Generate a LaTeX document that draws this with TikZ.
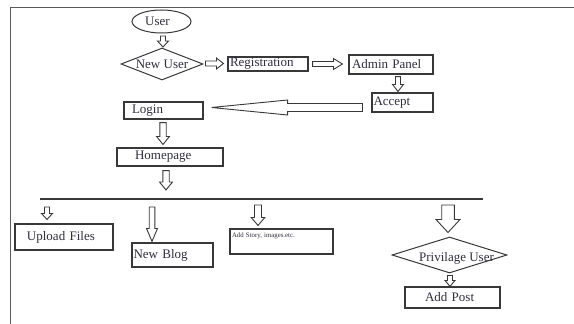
\documentclass[tikz,border=0pt]{standalone}
\usepackage{fontspec}
\setmainfont{Liberation Serif}
\usetikzlibrary{calc,shapes.geometric}
\definecolor{ink}{gray}{0.22}
\definecolor{txt}{rgb}{0.18,0.18,0.24}
\tikzset{
  lbl/.style={font=\fontsize{13}{15}\selectfont, text=txt},
  box/.style={draw=ink, line width=1.1pt, rectangle, inner ysep=0pt, align=left, lbl},
  dia/.style={draw=ink, line width=1pt, diamond, inner sep=0pt},
  blk/.style={draw=ink, line width=0.9pt, fill=white, line join=miter},
  frame/.style={draw=black!65, line width=1.4pt},
}
% down block arrow: from, to, shaft half, head half, head length
\newcommand\darrow[5]{\draw[blk] let \p1=#1, \p2=#2 in
  ({\x1-#3pt},\y1) -- ({\x1+#3pt},\y1) -- ({\x1+#3pt},{\y2+#5pt}) -- ({\x1+#4pt},{\y2+#5pt})
  -- (\x1,\y2) -- ({\x1-#4pt},{\y2+#5pt}) -- ({\x1-#3pt},{\y2+#5pt}) -- cycle;}
% horizontal block arrow: from, to, shaft half, head half, signed head length
\newcommand\harrow[5]{\draw[blk] let \p1=#1, \p2=#2 in
  (\x1,{\y1+#3pt}) -- ({\x2-(#5)*1pt},{\y1+#3pt}) -- ({\x2-(#5)*1pt},{\y1+#4pt})
  -- (\x2,\y1) -- ({\x2-(#5)*1pt},{\y1-#4pt}) -- ({\x2-(#5)*1pt},{\y1-#3pt}) -- (\x1,{\y1-#3pt}) -- cycle;}
\begin{document}
\begin{tikzpicture}[x=1pt,y=-1pt]
\useasboundingbox (0,0) rectangle (574,324);
\fill[white] (0,0) rectangle (574,324);
% frame
\coordinate (fTL) at (10.5,7.5);
\coordinate (fTR) at (574,7.5);
\coordinate (fBL) at (10.5,324);
\draw[frame] (fTR) -- (fTL) -- (fBL);

% nodes
\node[draw=ink, line width=1pt, ellipse, minimum width=59pt, minimum height=23pt, inner sep=0pt,
      label={[lbl, xshift=-4pt]center:User}] (user) at (161.5,21.5) {};
\node[dia, minimum width=82pt, minimum height=32pt, label={[lbl]center:New User}] (newuser) at (162,64) {};
\node[box, minimum width=80pt, minimum height=14pt, inner xsep=2pt, text width=76pt] (reg) at (268,64) {Registration};
\node[box, minimum width=84pt, minimum height=19pt, inner xsep=3pt, text width=78pt] (admin) at (391,64.5) {Admin Panel};
\node[box, minimum width=61pt, minimum height=19pt, inner xsep=1.5pt, text width=58pt] (accept) at (402.5,102.5) {Accept};
\node[box, minimum width=79pt, minimum height=17pt, inner xsep=8pt, text width=63pt] (login) at (163.5,110.5) {Login};
\node[box, minimum width=106pt, minimum height=18pt, inner xsep=18pt, text width=70pt] (home) at (170,157) {Homepage};

\coordinate (barL) at (40,199);
\coordinate (barR) at (483,199);
\draw[draw=ink, line width=1.1pt] (barL) -- (barR);

\node[box, minimum width=98pt, minimum height=26pt, inner xsep=12pt, text width=74pt] (upload) at (64,237) {Upload Files};
\node[box, minimum width=81pt, minimum height=24pt, inner xsep=1.5pt, text width=78pt] (newblog) at (172.5,255) {New Blog};
\node[box, minimum width=103pt, minimum height=25pt, inner xsep=2pt, text width=99pt,
      font=\fontsize{6.8}{8}\selectfont, text height=8pt, text depth=17pt] (story) at (281.5,241.5) {Add Story, images.etc.};
\node[dia, minimum width=115pt, minimum height=36pt,
      label={[lbl, xshift=7pt, yshift=-3pt]center:Privilage User}] (priv) at (449.5,255) {};
\node[box, minimum width=95pt, minimum height=21pt, inner xsep=20pt, text width=55pt] (addpost) at (452.5,297.5) {Add Post};

% connectors (block arrows)
\darrow{($(user.south)+(1.5,2.5)$)}{($(newuser.north)+(1,-0.5)$)}{2.5}{5.5}{6}
\harrow{($(newuser.east)+(2,-0.5)$)}{($(reg.west)+(-4,0)$)}{2.5}{5.5}{7}
\harrow{($(reg.east)+(4,0)$)}{($(admin.west)+(-6,0)$)}{2.5}{5.5}{9}
\darrow{($(admin.south)+(7,2)$)}{($(accept.north)+(-4.5,-1)$)}{2.5}{5.5}{7}
\harrow{($(accept.west)+(-9,5)$)}{($(login.east)+(8,-3)$)}{4}{7.5}{-76}
\darrow{($(login.south)+(-0.5,3)$)}{($(home.north)+(-7,-3)$)}{3.2}{6.5}{8}
\darrow{($(home.south)+(-4,4)$)}{($(barL)+(126,-9)$)}{3.2}{6.5}{8}
\darrow{($(barL)+(7,8)$)}{($(upload.north)+(-17,-4)$)}{2.5}{5.5}{6}
\darrow{($(barL)+(112,8)$)}{($(newblog.north)+(-20.5,-1)$)}{2.8}{5.5}{13}
\darrow{($(barL)+(218,6)$)}{($(story.north)+(-23.5,-3)$)}{3.5}{6.8}{8}
\darrow{($(barL)+(408,6)$)}{($(priv.north)+(-1.5,-4)$)}{6.3}{12}{13}
\darrow{($(priv.south)+(0.5,2)$)}{($(addpost.north)+(-2.5,0)$)}{2.5}{5}{6}
\end{tikzpicture}
\end{document}
